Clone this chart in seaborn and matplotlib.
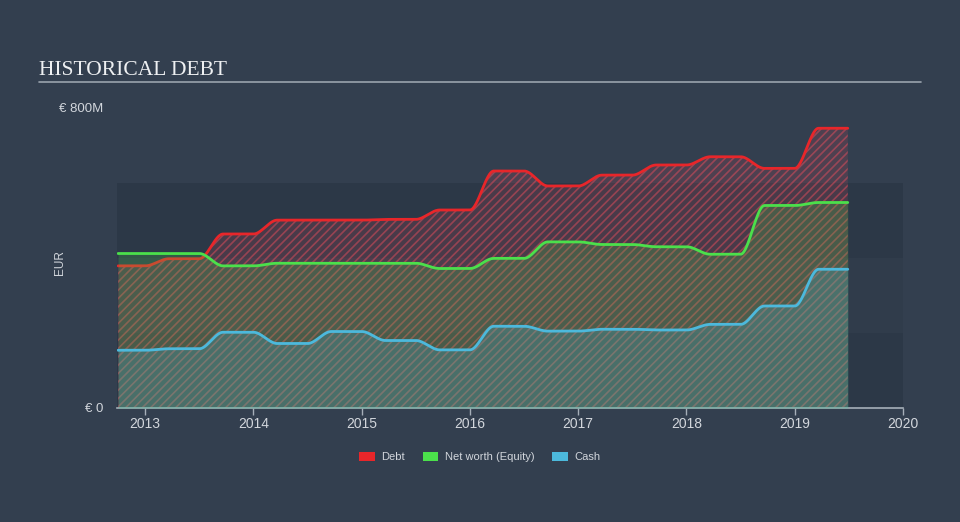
import numpy as np
import pandas as pd
import matplotlib
matplotlib.use("Agg")
import matplotlib.pyplot as plt
import seaborn as sns
from matplotlib.patches import Patch
from matplotlib.lines import Line2D

# ---- data (EUR millions) ----
dates = [2012.75, 2013.0, 2013.5, 2014.0, 2014.5, 2015.0, 2015.5, 2016.0,
         2016.5, 2017.0, 2017.5, 2018.0, 2018.5, 2019.0, 2019.49]
debt = [379, 398, 464, 501, 501, 503, 528, 632, 592, 621, 648, 670, 639, 746, 746]
equity = [412, 412, 379, 386, 386, 386, 372, 399, 443, 436, 430, 410, 540, 548, 548]
cash = [154, 158, 202, 172, 204, 180, 155, 218, 205, 210, 208, 223, 272, 370, 370]
series_names = ["Debt", "Net worth (Equity)", "Cash"]
year_ticks = [2013, 2014, 2015, 2016, 2017, 2018, 2019, 2020]
y_ticks = [0, 800]
y_tick_labels = ["€ 0", "€ 800M"]

# ---- style ----
BG = "#333f4f"
BAND_DARK = "#2c3847"
BAND_MID = "#303c4b"
RED = "#e8262a"
GREEN = "#4be04b"
BLUE = "#4cb9dc"
TEXT = "#d2d6dc"
SPINE = "#a6afb9"

sns.set_theme(style="dark")
plt.rcParams["font.family"] = ["Liberation Sans", "DejaVu Sans"]
plt.rcParams["hatch.linewidth"] = 1.2

RAMP = 0.22


def render(vals):
    # draw-only smoothing: values are held, then eased to the next reported value
    tt = np.linspace(dates[0], dates[-1], 1500)
    yy = np.full_like(tt, float(vals[0]))
    for i in range(1, len(dates)):
        s = np.clip((tt - dates[i]) / RAMP, 0, 1)
        yy += (vals[i] - vals[i - 1]) * s * s * (3 - 2 * s)
    return tt, yy


fig = plt.figure(figsize=(9.6, 5.22), dpi=100, facecolor=BG)
ax = fig.add_axes([117 / 960, 1 - 408 / 522, (903 - 117) / 960, 300 / 522])
ax.set_facecolor(BG)
ax.set_xlim(2012.74, 2020.0)
ax.set_ylim(0, 800)

ax.axhspan(0, 200, color=BAND_DARK, zorder=0, lw=0)
ax.axhspan(200, 400, color=BAND_MID, zorder=0, lw=0)
ax.axhspan(400, 600, color=BAND_DARK, zorder=0, lw=0)

td, yd = render(debt)
te, ye = render(equity)
tc, yc = render(cash)

# Debt: hatched red
ax.fill_between(td, 0, yd, facecolor=(0.85, 0.28, 0.34, 0.17),
                edgecolor=(0.88, 0.30, 0.36, 0.52), hatch="////", linewidth=0, zorder=1)
df_d = pd.DataFrame({"t": td, "v": yd})
sns.lineplot(data=df_d, x="t", y="v", color=RED, linewidth=2, ax=ax, zorder=2)

# Equity: translucent green
ax.fill_between(te, 0, ye, facecolor=GREEN, alpha=0.20, linewidth=0, zorder=3)
# Cash: translucent blue
ax.fill_between(tc, 0, yc, facecolor=BLUE, alpha=0.22, linewidth=0, zorder=4)

df_e = pd.DataFrame({"t": te, "v": ye})
df_c = pd.DataFrame({"t": tc, "v": yc})
sns.lineplot(data=df_e, x="t", y="v", color=GREEN, linewidth=2, ax=ax, zorder=5)
sns.lineplot(data=df_c, x="t", y="v", color=BLUE, linewidth=2, ax=ax, zorder=6)

ax.set_xlabel("")
ax.set_ylabel("")
ax.set_xticks(year_ticks)
ax.set_xticklabels([str(y) for y in year_ticks])
ax.set_yticks(y_ticks)
ax.set_yticklabels(y_tick_labels)
ax.tick_params(axis="x", length=5, width=1, color=SPINE, labelcolor=TEXT,
               labelsize=10, pad=1.5, bottom=True)
ax.tick_params(axis="y", length=0, labelcolor=TEXT, labelsize=9.5, pad=10)
ax.grid(False)
for side in ["left", "right", "top"]:
    ax.spines[side].set_visible(False)
ax.spines["bottom"].set_color(SPINE)
ax.spines["bottom"].set_linewidth(1.2)

# y axis label
fig.text(60 / 960, 1 - 263 / 522, "EUR", rotation=90, ha="center", va="center",
         color=TEXT, fontsize=8.5)

# title + rule
fig.text(39 / 960, 1 - 75 / 522, "HISTORICAL DEBT", family=["Liberation Serif"],
         fontsize=15.5, color="#eef0f2", ha="left", va="baseline")
fig.add_artist(Line2D([39 / 960, 921 / 960], [1 - 82 / 522] * 2,
                      color="#9aa3ad", lw=1.2, transform=fig.transFigure))

handles = [Patch(facecolor=c, edgecolor="none") for c in (RED, GREEN, BLUE)]
fig.legend(handles=handles, labels=series_names, loc="center",
           bbox_to_anchor=(0.5, 1 - 457 / 522), ncol=3, frameon=False,
           fontsize=8, labelcolor=TEXT, handlelength=1.4, handleheight=0.9,
           columnspacing=1.6, handletextpad=0.6)

fig.savefig("out.png", dpi=100, facecolor=BG)
